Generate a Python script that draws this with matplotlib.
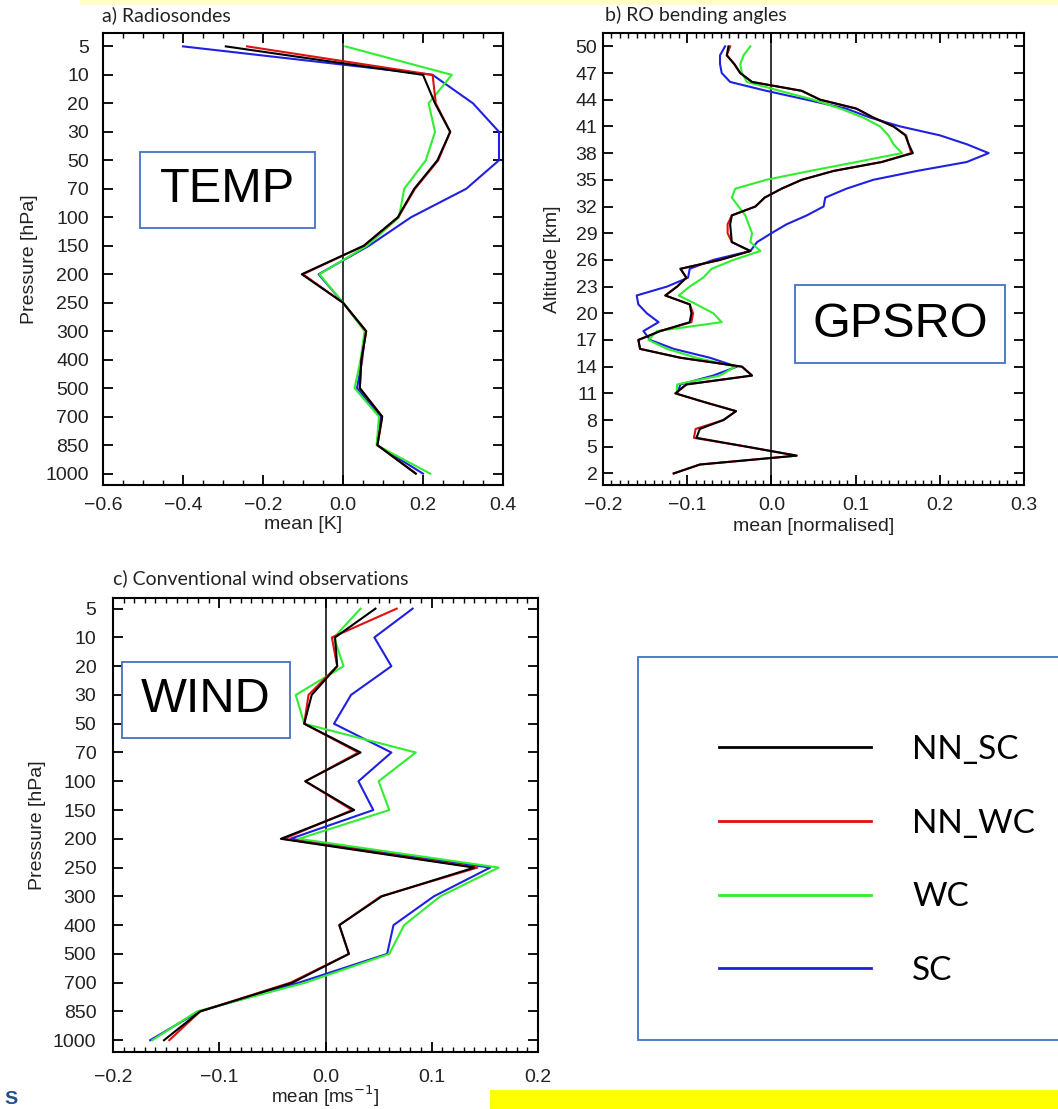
import matplotlib
matplotlib.use("Agg")
import matplotlib.pyplot as plt
from matplotlib.patches import Rectangle
from matplotlib.ticker import MultipleLocator

plt.rcParams['font.family'] = ['Liberation Sans', 'DejaVu Sans']

# ---------------- data ----------------
series_names = ['NN_SC', 'NN_WC', 'WC', 'SC']
series_colors = {'NN_SC': '#000000', 'NN_WC': '#e01010', 'WC': '#30ee30', 'SC': '#2020e0'}

levels = ['5', '10', '20', '30', '50', '70', '100', '150', '200', '250',
          '300', '400', '500', '700', '850', '1000']

temp_nn_sc = [-0.293, 0.200, 0.230, 0.268, 0.236, 0.178, 0.137, 0.052, -0.103, 0.000,
              0.058, 0.046, 0.042, 0.098, 0.086, 0.182]
temp_nn_wc = [-0.240, 0.224, 0.232, 0.268, 0.238, 0.180, 0.138, 0.052, -0.100, 0.000,
              0.058, 0.046, 0.042, 0.098, 0.086, 0.182]
temp_wc = [0.006, 0.272, 0.214, 0.230, 0.207, 0.153, 0.140, 0.060, -0.059, 0.000,
           0.054, 0.044, 0.029, 0.090, 0.084, 0.218]
temp_sc = [-0.400, 0.224, 0.325, 0.390, 0.390, 0.308, 0.170, 0.065, -0.061, 0.000,
           0.056, 0.048, 0.035, 0.094, 0.085, 0.200]

alt_low = list(range(2, 51))
alt_high = list(range(11, 51))
ro_nn_sc = [-0.116, -0.085, 0.030, -0.029, -0.089, -0.085, -0.057, -0.042, -0.079, -0.114,
            -0.101, -0.023, -0.035, -0.108, -0.156, -0.158, -0.132, -0.097, -0.095, -0.097,
            -0.126, -0.112, -0.101, -0.108, -0.061, -0.025, -0.047, -0.048, -0.049, -0.047,
            -0.019, -0.008, 0.012, 0.036, 0.074, 0.131, 0.168, 0.163, 0.159, 0.145,
            0.121, 0.101, 0.058, 0.036, -0.023, -0.037, -0.044, -0.053, -0.051]
ro_nn_wc = [-0.116, -0.085, 0.030, -0.029, -0.092, -0.090, -0.057, -0.042, -0.079, -0.114,
            -0.101, -0.023, -0.035, -0.108, -0.156, -0.158, -0.132, -0.095, -0.093, -0.097,
            -0.126, -0.112, -0.101, -0.108, -0.061, -0.025, -0.047, -0.052, -0.052, -0.047,
            -0.019, -0.008, 0.012, 0.036, 0.074, 0.131, 0.166, 0.163, 0.160, 0.145,
            0.121, 0.101, 0.058, 0.036, -0.023, -0.037, -0.044, -0.053, -0.049]
ro_wc = [-0.112, -0.112, -0.061, -0.043, -0.089, -0.124, -0.146, -0.136, -0.059, -0.069,
         -0.089, -0.110, -0.097, -0.081, -0.071, -0.045, -0.013, -0.025, -0.023, -0.027,
         -0.031, -0.039, -0.047, -0.043, -0.006, 0.046, 0.101, 0.155, 0.145, 0.139,
         0.129, 0.109, 0.082, 0.050, 0.010, -0.029, -0.035, -0.037, -0.033, -0.025]
ro_sc = [-0.112, -0.108, -0.069, -0.041, -0.073, -0.116, -0.144, -0.152, -0.134, -0.148,
         -0.158, -0.160, -0.124, -0.099, -0.097, -0.069, -0.025, -0.017, 0.000, 0.018,
         0.042, 0.062, 0.064, 0.089, 0.121, 0.173, 0.232, 0.258, 0.232, 0.200,
         0.153, 0.117, 0.089, 0.042, -0.006, -0.049, -0.059, -0.061, -0.061, -0.055]

wind_nn_sc = [0.047, 0.009, 0.011, -0.013, -0.020, 0.033, -0.019, 0.027, -0.042, 0.140,
              0.053, 0.013, 0.022, -0.031, -0.118, -0.152]
wind_nn_wc = [0.067, 0.006, 0.011, -0.016, -0.020, 0.031, -0.019, 0.025, -0.039, 0.143,
              0.052, 0.013, 0.022, -0.033, -0.118, -0.147]
wind_wc = [0.033, 0.008, 0.017, -0.028, -0.020, 0.085, 0.050, 0.060, -0.025, 0.163,
           0.108, 0.074, 0.060, -0.019, -0.121, -0.163]
wind_sc = [0.082, 0.046, 0.062, 0.024, 0.008, 0.062, 0.031, 0.045, -0.033, 0.155,
           0.102, 0.064, 0.058, -0.025, -0.119, -0.165]

# ---------------- figure ----------------
W, H = 1058, 1109
fig = plt.figure(figsize=(W / 100, H / 100), dpi=100)


def fx(px):
    return px / W


def fy(py):
    return 1 - py / H


def style_axes(ax, ypad, xpad):
    for s in ax.spines.values():
        s.set_linewidth(1.5)
    ax.tick_params(which='both', direction='in', top=True, right=True,
                   labelsize=14, labelcolor='#222222')
    ax.tick_params(which='major', length=7, width=1.3)
    ax.tick_params(which='minor', length=3.5, width=1.0)
    ax.tick_params(axis='y', which='major', pad=ypad)
    ax.tick_params(axis='x', which='major', pad=xpad)
    ax.axvline(0, color='black', lw=1.1, zorder=1)


LW = 1.5
order = ['SC', 'WC', 'NN_WC', 'NN_SC']
TITLE_KW = dict(family='Lato', fontsize=14, va='center', ha='left', color='#222222')

# Panel a
axa = fig.add_axes([fx(103), fy(485), fx(400), 452 / H])
temp = {'NN_SC': temp_nn_sc, 'NN_WC': temp_nn_wc, 'WC': temp_wc, 'SC': temp_sc}
axa.plot([0] * len(levels), levels, alpha=0)
for n in order:
    axa.plot(temp[n], levels, color=series_colors[n], lw=LW, zorder=2)
axa.set_xlim(-0.6, 0.4)
axa.set_ylim(15.4, -0.47)
axa.xaxis.set_minor_locator(MultipleLocator(0.05))
axa.set_xticks([-0.6, -0.4, -0.2, 0.0, 0.2, 0.4])
axa.set_xticklabels(['\u22120.6', '\u22120.4', '\u22120.2', '0.0', '0.2', '0.4'])
style_axes(axa, 10, 9)
axa.set_xlabel('mean [K]', fontsize=14, color='#222222')
axa.set_ylabel('Pressure [hPa]', fontsize=14, color='#222222')
axa.xaxis.set_label_coords(0.5, -0.068)
axa.yaxis.set_label_coords(-0.163, 0.5)
fig.text(fx(102), fy(15), 'a) Radiosondes', **TITLE_KW)

# Panel b
axb = fig.add_axes([fx(603), fy(485), fx(421), 452 / H])
ro = {'NN_SC': (alt_low, ro_nn_sc), 'NN_WC': (alt_low, ro_nn_wc),
      'WC': (alt_high, ro_wc), 'SC': (alt_high, ro_sc)}
for n in order:
    a, v = ro[n]
    axb.plot(v, a, color=series_colors[n], lw=LW, zorder=2)
axb.set_xlim(-0.2, 0.3)
axb.set_ylim(0.7, 51.5)
axb.set_yticks(list(range(2, 51, 3)))
axb.set_xticks([-0.2, -0.1, 0.0, 0.1, 0.2, 0.3])
axb.set_xticklabels(['\u22120.2', '\u22120.1', '0.0', '0.1', '0.2', '0.3'])
axb.xaxis.set_minor_locator(MultipleLocator(0.01))
style_axes(axb, 4, 9)
axb.set_xlabel('mean [normalised]', fontsize=14, color='#222222')
axb.set_ylabel('Altitude [km]', fontsize=14, color='#222222')
axb.xaxis.set_label_coords(0.5, -0.072)
axb.yaxis.set_label_coords(-0.1, 0.5)
fig.text(fx(605), fy(15), 'b) RO bending angles', **TITLE_KW)

# Panel c
axc = fig.add_axes([fx(113), fy(1052), fx(425), 454 / H])
wind = {'NN_SC': wind_nn_sc, 'NN_WC': wind_nn_wc, 'WC': wind_wc, 'SC': wind_sc}
axc.plot([0] * len(levels), levels, alpha=0)
handles = {}
for n in order:
    ln, = axc.plot(wind[n], levels, color=series_colors[n], lw=LW, zorder=2)
    handles[n] = ln
axc.set_xlim(-0.2, 0.2)
axc.set_ylim(15.41, -0.37)
axc.set_xticks([-0.2, -0.1, 0.0, 0.1, 0.2])
axc.set_xticklabels(['\u22120.2', '\u22120.1', '0.0', '0.1', '0.2'])
axc.xaxis.set_minor_locator(MultipleLocator(0.01))
style_axes(axc, 12, 12)
axc.set_xlabel('mean [ms$^{-1}$]', fontsize=13.5, color='#222222')
axc.set_ylabel('Pressure [hPa]', fontsize=14, color='#222222')
axc.xaxis.set_label_coords(0.5, -0.07)
axc.yaxis.set_label_coords(-0.158, 0.5)
fig.text(fx(113), fy(578), 'c) Conventional wind observations', **TITLE_KW)

# Label boxes
box_col = '#4472C4'


def label_box(x0, y0, x1, y1, text):
    fig.patches.append(Rectangle((fx(x0), fy(y1)), fx(x1 - x0), (y1 - y0) / H,
                                 transform=fig.transFigure, facecolor='white',
                                 edgecolor=box_col, lw=1.3, zorder=5))
    fig.text(fx((x0 + x1) / 2), fy((y0 + y1) / 2), text, fontsize=35,
             ha='center', va='center', zorder=6, family='Liberation Sans')


label_box(140, 152, 315, 228, 'TEMP')
label_box(795, 285, 1005, 363, 'GPSRO')
label_box(122, 662, 290, 738, 'WIND')

# Legend
fig.patches.append(Rectangle((fx(638), fy(1040)), fx(440), (1040 - 657) / H,
                             transform=fig.transFigure, facecolor='white',
                             edgecolor=box_col, lw=1.3, zorder=5))
leg = fig.legend([handles[n] for n in series_names], series_names,
                 loc='upper left', bbox_to_anchor=(fx(719), fy(735)),
                 frameon=False, prop={'family': 'Lato', 'size': 24},
                 handlelength=4.55, handletextpad=1.25, labelspacing=1.31,
                 borderpad=0, borderaxespad=0)
leg.set_zorder(7)
for l in leg.get_lines():
    l.set_linewidth(2.0)

# slide decorations
fig.patches.append(Rectangle((fx(80), fy(5)), fx(978), 5 / H, transform=fig.transFigure,
                             facecolor='#FFFFC8', edgecolor='none', zorder=0))
fig.patches.append(Rectangle((fx(490), 0), fx(568), 19 / H, transform=fig.transFigure,
                             facecolor='#FFFF00', edgecolor='none', zorder=0))
fig.text(fx(4), fy(1100), 'S', fontsize=14, fontweight='bold', color='#1F4E8C',
         va='center', ha='left')

fig.savefig('out.png', dpi=100)
